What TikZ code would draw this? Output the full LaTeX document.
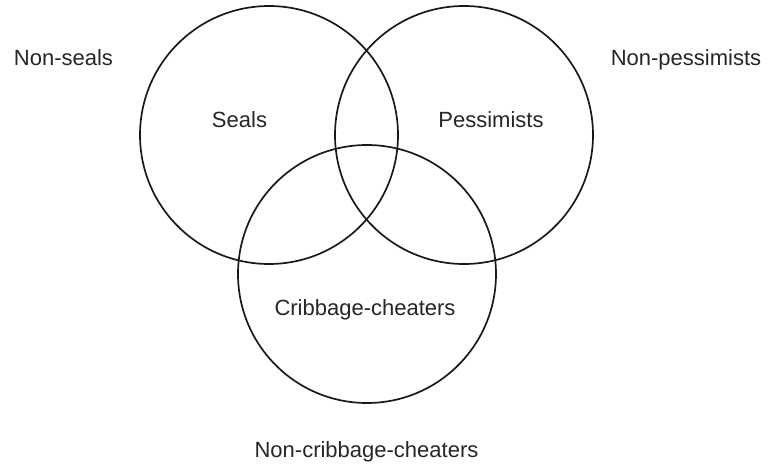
\documentclass[tikz,border=0pt]{standalone}
\usepackage{fontspec}
\setmainfont{Liberation Sans}
\begin{document}
\begin{tikzpicture}[x=1pt,y=-1pt,
  setcircle/.style={draw=black!90, line width=1.7pt},
  lbl/.style={font=\fontsize{22}{26}\selectfont, text=black!85, inner sep=0pt}]
\useasboundingbox (0,0) rectangle (769,466);
\draw[setcircle] (269,135) circle[radius=129];
\draw[setcircle] (464,135) circle[radius=129];
\draw[setcircle] (367,274) circle[radius=129];
\node[lbl] (seals) at (239.5,120) {Seals};
\node[lbl] (pess) at (491,120) {Pessimists};
\node[lbl] (crib) at (365,310) {Cribbage-cheaters};
\node[lbl] (nseals) at (63.5,58) {Non-seals};
\node[lbl] (npess) at (686,60) {Non-pessimists};
\node[lbl] (ncrib) at (366.5,452) {Non-cribbage-cheaters};
\end{tikzpicture}
\end{document}
